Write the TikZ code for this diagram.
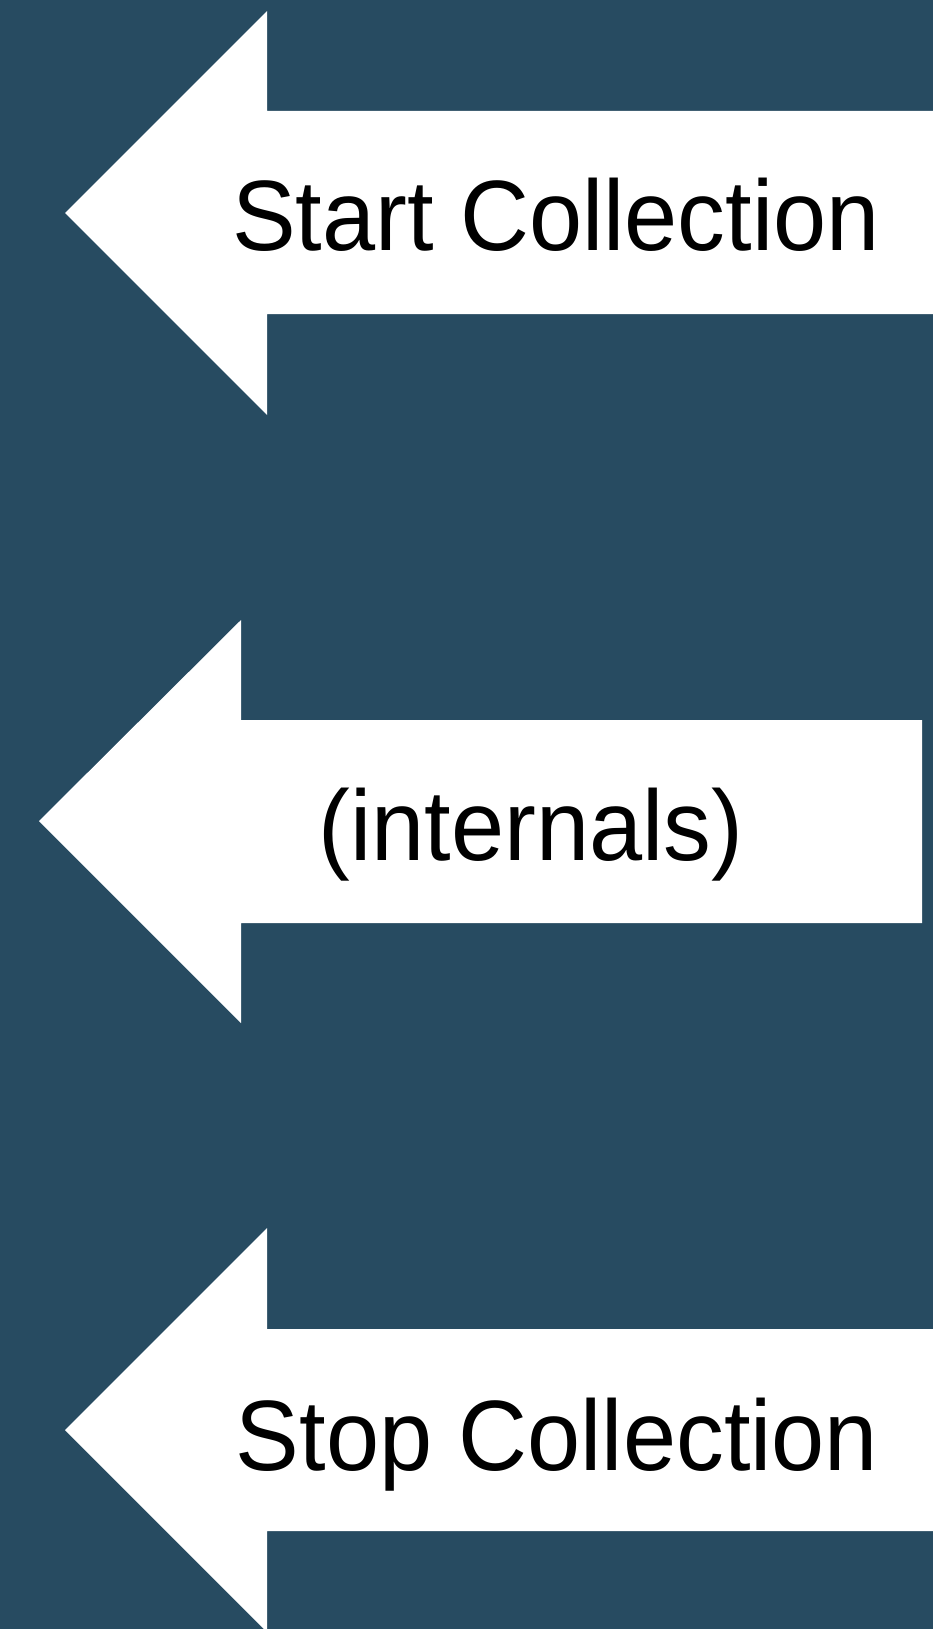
\documentclass[tikz,border=0pt]{standalone}
\usepackage{fontspec}
\setmainfont{Liberation Sans}
\definecolor{bgblue}{RGB}{39,75,97}
\begin{document}
\begin{tikzpicture}[x=1pt,y=-1pt,
  arrowshape/.style={fill=white,draw=none},
  label/.style={anchor=base,inner sep=0pt,text=black,xscale=0.955,font=\fontsize{100}{115}\selectfont}]
\useasboundingbox (0,0) rectangle (933,1629);
\clip (0,0) rectangle (933,1629);
\fill[bgblue] (0,0) rectangle (933,1629);
% arrow 1
\fill[arrowshape] (65,213) -- (267,11) -- (267,111) -- (933,111) -- (933,314) -- (267,314) -- (267,415) -- cycle;
% arrow 2
\fill[arrowshape] (39,821) -- (241,620) -- (241,720) -- (922,720) -- (922,923) -- (241,923) -- (241,1023) -- cycle;
% arrow 3
\fill[arrowshape] (65,1430) -- (267,1228) -- (267,1329) -- (933,1329) -- (933,1531) -- (267,1531) -- (267,1632) -- cycle;
\node[label] (start) at (556,251) {Start Collection};
\node[label] (internals) at (531,860) {(internals)};
\node[label] (stop) at (557,1470) {Stop Collection};
\end{tikzpicture}
\end{document}
